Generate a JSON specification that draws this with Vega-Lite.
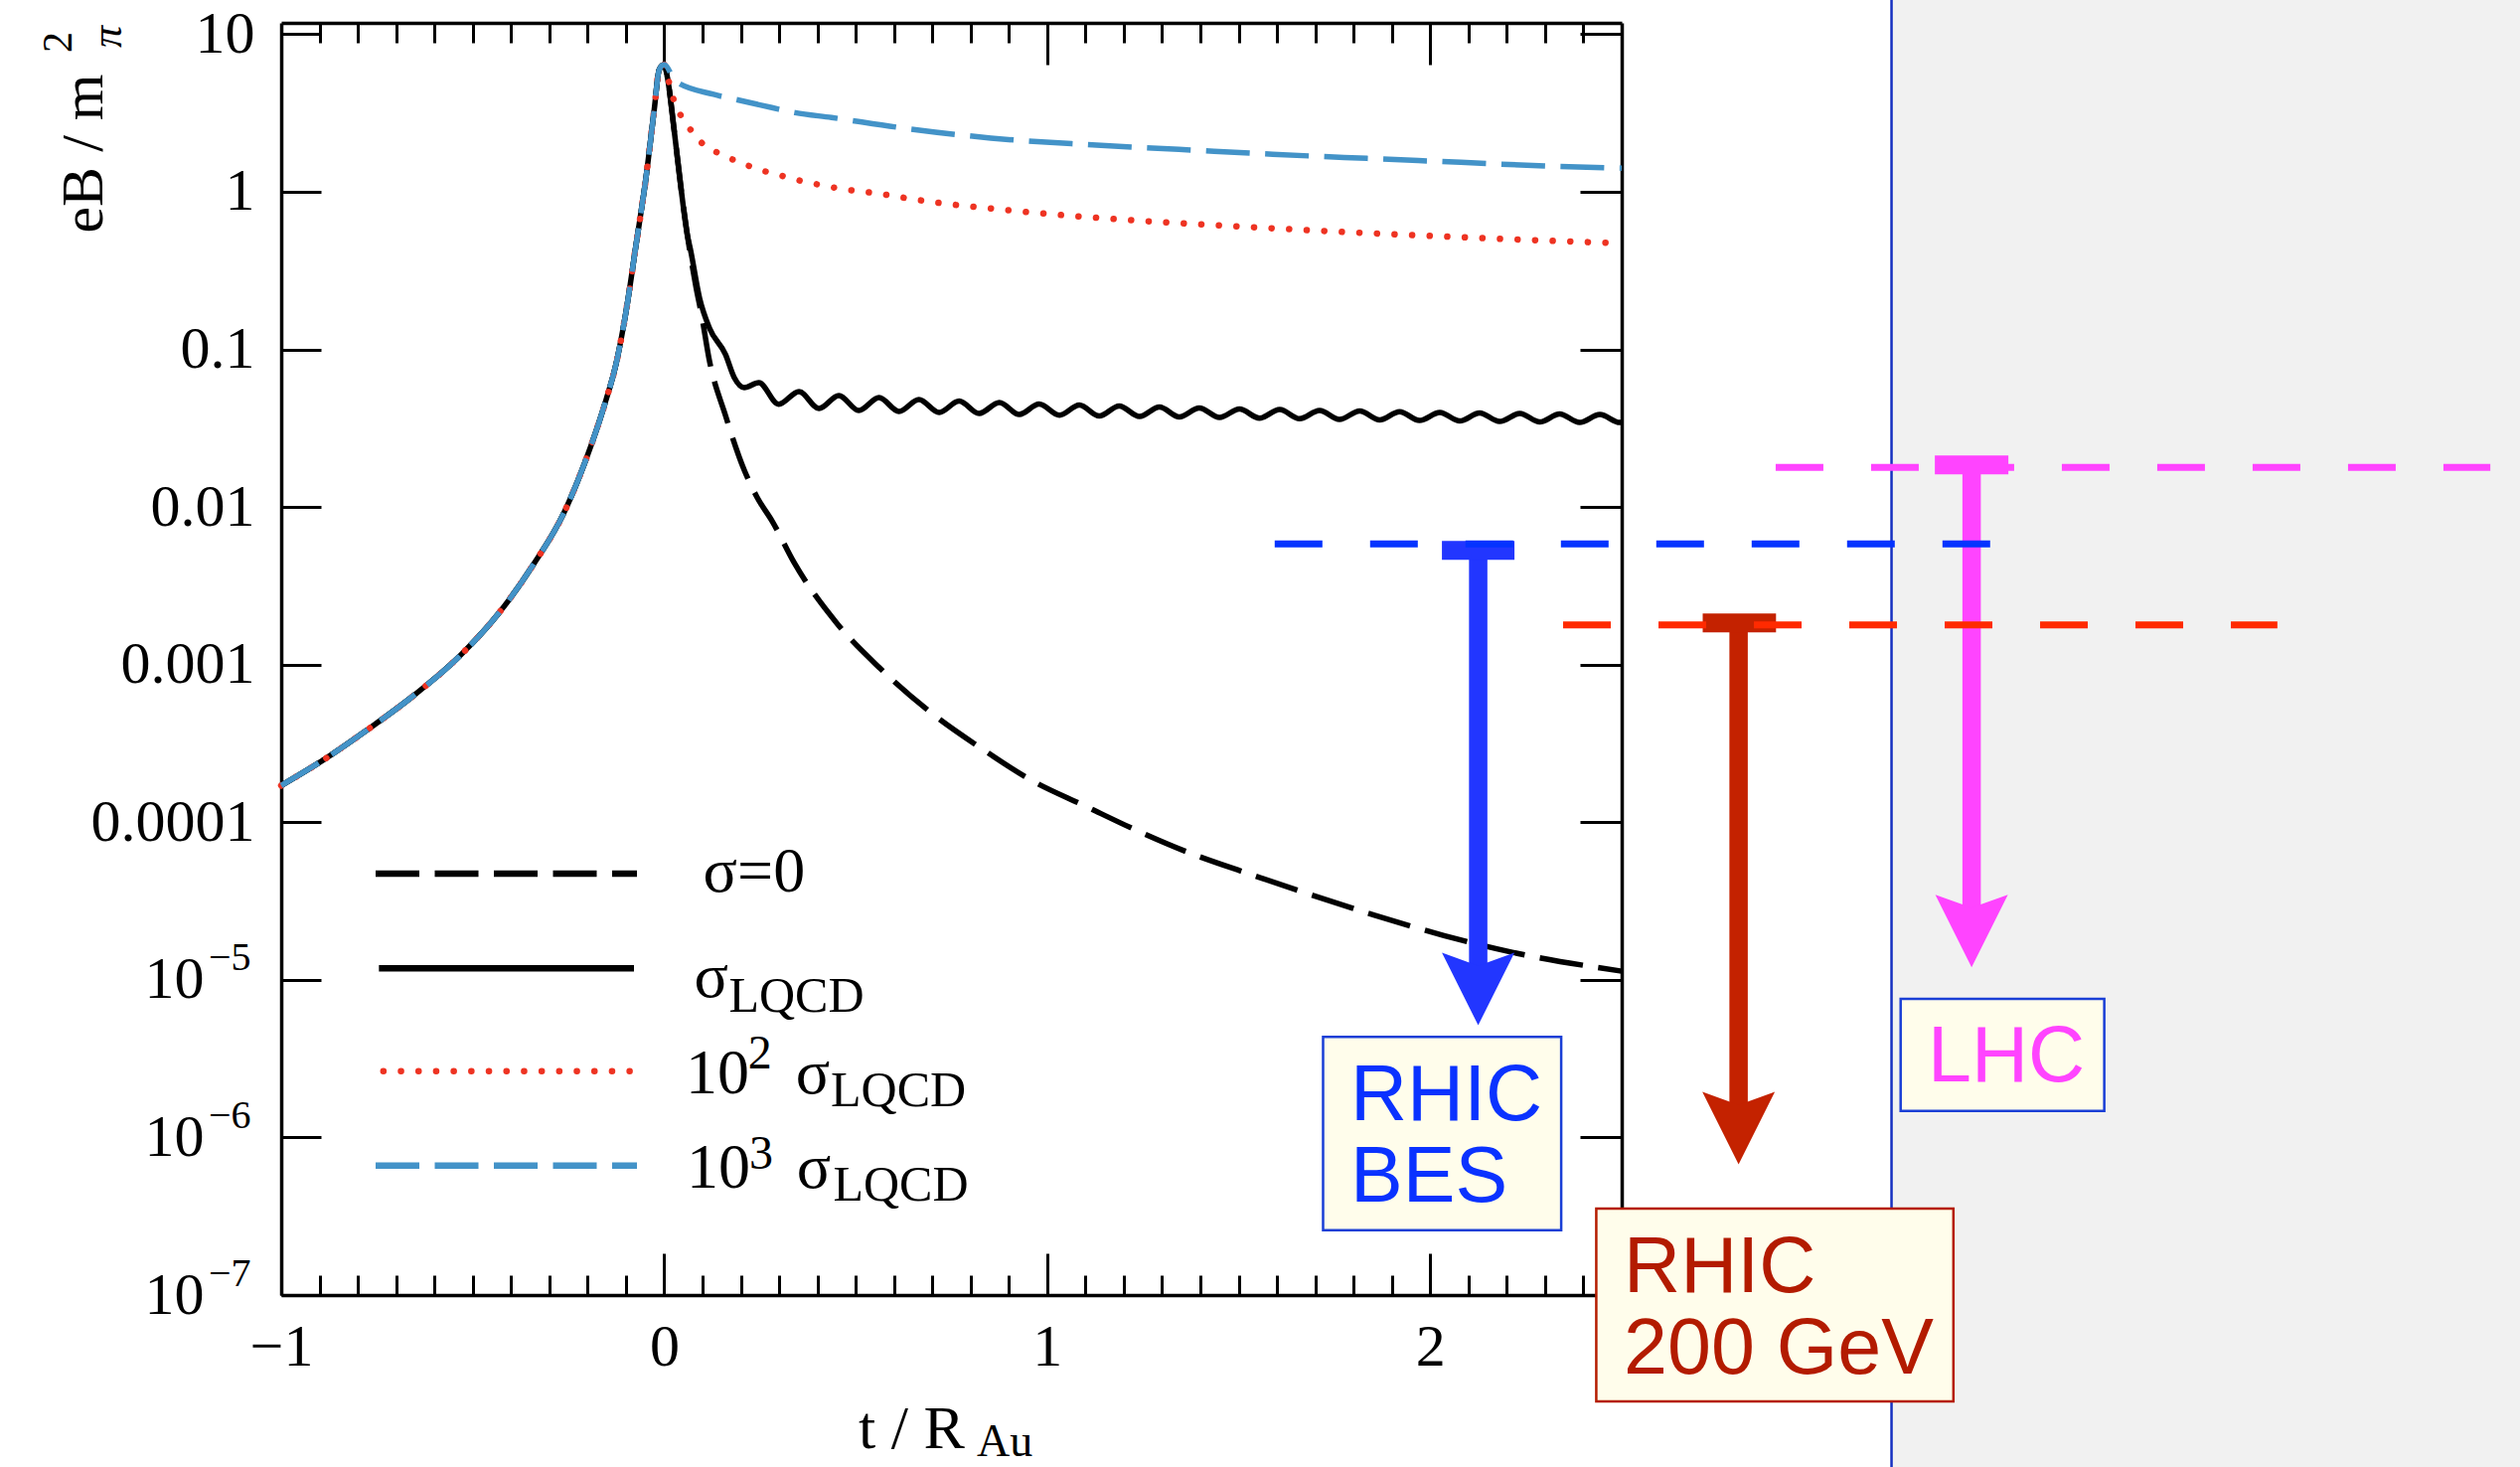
{
  "$schema": "https://vega.github.io/schema/vega-lite/v6.json",
  "width": 1349,
  "height": 1280,
  "autosize": {"type": "none"},
  "padding": {"left": 283, "top": 23, "right": 904, "bottom": 173},
  "background": "#ffffff",
  "config": {
    "view": {"stroke": null},
    "axis": {
      "labelFont": "Liberation Serif", "labelFontSize": 60, "labelColor": "#000000",
      "domainColor": "#000000", "domainWidth": 3.5, "tickColor": "#000000", "tickWidth": 3,
      "grid": false, "labelFlush": false, "labelOverlap": false, "labelBound": false
    },
    "text": {"font": "Liberation Serif"}
  },
  "datasets": {
    "c0": [
      {"t": -1, "v": 1.71e-4, "seg": "curve"}, {"t": -0.888, "v": 2.5e-4, "seg": "curve"},
      {"t": -0.777, "v": 3.83e-4, "seg": "curve"}, {"t": -0.654, "v": 6.37e-4, "seg": "curve"},
      {"t": -0.531, "v": 1.153e-3, "seg": "curve"}, {"t": -0.431, "v": 2.133e-3, "seg": "curve"},
      {"t": -0.342, "v": 4.3e-3, "seg": "curve"}, {"t": -0.263, "v": 9.06e-3, "seg": "curve"},
      {"t": -0.208, "v": 0.01892, "seg": "curve"}, {"t": -0.152, "v": 0.0477, "seg": "curve"},
      {"t": -0.126, "v": 0.0804, "seg": "curve"}, {"t": -0.0996, "v": 0.174, "seg": "curve"},
      {"t": -0.0737, "v": 0.458, "seg": "curve"}, {"t": -0.048, "v": 1.208, "seg": "curve"},
      {"t": -0.026, "v": 3.33, "seg": "curve"}, {"t": -0.013, "v": 5.97, "seg": "curve"},
      {"t": 0, "v": 6.41, "seg": "curve"}, {"t": 0.0086, "v": 5.28, "seg": "curve"},
      {"t": 0.0257, "v": 2.49, "seg": "curve"}, {"t": 0.043, "v": 1.096, "seg": "curve"},
      {"t": 0.0605, "v": 0.53, "seg": "curve"}, {"t": 0.082, "v": 0.2564, "seg": "curve"},
      {"t": 0.099, "v": 0.1581, "seg": "curve"}, {"t": 0.1166, "v": 0.0885, "seg": "curve"},
      {"t": 0.16, "v": 0.0381, "seg": "curve"}, {"t": 0.209, "v": 0.01714, "seg": "curve"},
      {"t": 0.242, "v": 0.01159, "seg": "curve"}, {"t": 0.283, "v": 0.00805, "seg": "curve"},
      {"t": 0.339, "v": 0.00445, "seg": "curve"}, {"t": 0.451, "v": 0.001828, "seg": "curve"},
      {"t": 0.5625, "v": 9.53e-4, "seg": "curve"}, {"t": 0.696, "v": 4.97e-4, "seg": "curve"},
      {"t": 0.83, "v": 2.92e-4, "seg": "curve"}, {"t": 0.964, "v": 1.816e-4, "seg": "curve"},
      {"t": 1.098, "v": 1.271e-4, "seg": "curve"}, {"t": 1.232, "v": 8.91e-5, "seg": "curve"},
      {"t": 1.366, "v": 6.47e-5, "seg": "curve"}, {"t": 1.522, "v": 4.75e-5, "seg": "curve"},
      {"t": 1.679, "v": 3.53e-5, "seg": "curve"}, {"t": 1.857, "v": 2.56e-5, "seg": "curve"},
      {"t": 2.036, "v": 1.91e-5, "seg": "curve"}, {"t": 2.214, "v": 1.496e-5, "seg": "curve"},
      {"t": 2.5, "v": 1.135e-5, "seg": "curve"},
      {"t": -0.7535, "v": 4.716e-5, "seg": "legend"}, {"t": -0.0711, "v": 4.716e-5, "seg": "legend"}
    ],
    "c1": [
      {"t": -1, "v": 1.71e-4, "seg": "curve"}, {"t": -0.888, "v": 2.5e-4, "seg": "curve"},
      {"t": -0.777, "v": 3.83e-4, "seg": "curve"}, {"t": -0.654, "v": 6.37e-4, "seg": "curve"},
      {"t": -0.531, "v": 1.153e-3, "seg": "curve"}, {"t": -0.431, "v": 2.133e-3, "seg": "curve"},
      {"t": -0.342, "v": 4.3e-3, "seg": "curve"}, {"t": -0.263, "v": 9.06e-3, "seg": "curve"},
      {"t": -0.208, "v": 0.01892, "seg": "curve"}, {"t": -0.152, "v": 0.0477, "seg": "curve"},
      {"t": -0.126, "v": 0.0804, "seg": "curve"}, {"t": -0.0996, "v": 0.174, "seg": "curve"},
      {"t": -0.0737, "v": 0.458, "seg": "curve"}, {"t": -0.048, "v": 1.208, "seg": "curve"},
      {"t": -0.026, "v": 3.33, "seg": "curve"}, {"t": -0.013, "v": 5.97, "seg": "curve"},
      {"t": 0, "v": 6.41, "seg": "curve"}, {"t": 0.0086, "v": 5.28, "seg": "curve"},
      {"t": 0.0257, "v": 2.49, "seg": "curve"}, {"t": 0.043, "v": 1.096, "seg": "curve"},
      {"t": 0.0605, "v": 0.53, "seg": "curve"}, {"t": 0.068, "v": 0.4365, "seg": "curve"},
      {"t": 0.0924, "v": 0.2113, "seg": "curve"}, {"t": 0.118, "v": 0.1368, "seg": "curve"},
      {"t": 0.16, "v": 0.0929, "seg": "curve"}, {"t": 0.183, "v": 0.0662, "seg": "curve"},
      {"t": 0.209, "v": 0.05722, "seg": "curve"}, {"t": 0.247, "v": 0.06152, "seg": "curve"},
      {"t": 0.299, "v": 0.04488, "seg": "curve"}, {"t": 0.352, "v": 0.05399, "seg": "curve"},
      {"t": 0.404, "v": 0.04217, "seg": "curve"}, {"t": 0.456, "v": 0.05093, "seg": "curve"},
      {"t": 0.508, "v": 0.04096, "seg": "curve"}, {"t": 0.561, "v": 0.04948, "seg": "curve"},
      {"t": 0.613, "v": 0.04037, "seg": "curve"}, {"t": 0.665, "v": 0.04806, "seg": "curve"},
      {"t": 0.718, "v": 0.03979, "seg": "curve"}, {"t": 0.77, "v": 0.04702, "seg": "curve"},
      {"t": 0.822, "v": 0.03922, "seg": "curve"}, {"t": 0.875, "v": 0.04601, "seg": "curve"},
      {"t": 0.927, "v": 0.03865, "seg": "curve"}, {"t": 0.979, "v": 0.04501, "seg": "curve"},
      {"t": 1.032, "v": 0.03826, "seg": "curve"}, {"t": 1.084, "v": 0.04437, "seg": "curve"},
      {"t": 1.136, "v": 0.03781, "seg": "curve"}, {"t": 1.188, "v": 0.04373, "seg": "curve"},
      {"t": 1.241, "v": 0.03754, "seg": "curve"}, {"t": 1.293, "v": 0.0431, "seg": "curve"},
      {"t": 1.345, "v": 0.03727, "seg": "curve"}, {"t": 1.397, "v": 0.04248, "seg": "curve"},
      {"t": 1.45, "v": 0.037, "seg": "curve"}, {"t": 1.502, "v": 0.04187, "seg": "curve"},
      {"t": 1.554, "v": 0.03662, "seg": "curve"}, {"t": 1.607, "v": 0.04156, "seg": "curve"},
      {"t": 1.659, "v": 0.03631, "seg": "curve"}, {"t": 1.711, "v": 0.04096, "seg": "curve"},
      {"t": 1.763, "v": 0.03594, "seg": "curve"}, {"t": 1.816, "v": 0.04067, "seg": "curve"},
      {"t": 1.868, "v": 0.03568, "seg": "curve"}, {"t": 1.92, "v": 0.04025, "seg": "curve"},
      {"t": 1.972, "v": 0.03542, "seg": "curve"}, {"t": 2.025, "v": 0.03979, "seg": "curve"},
      {"t": 2.077, "v": 0.03516, "seg": "curve"}, {"t": 2.129, "v": 0.0395, "seg": "curve"},
      {"t": 2.181, "v": 0.03491, "seg": "curve"}, {"t": 2.234, "v": 0.03922, "seg": "curve"},
      {"t": 2.286, "v": 0.03466, "seg": "curve"}, {"t": 2.338, "v": 0.03893, "seg": "curve"},
      {"t": 2.39, "v": 0.0344, "seg": "curve"}, {"t": 2.443, "v": 0.03865, "seg": "curve"},
      {"t": 2.495, "v": 0.0344, "seg": "curve"}, {"t": 2.5, "v": 0.03445, "seg": "curve"},
      {"t": -0.7449, "v": 1.182e-5, "seg": "legend"}, {"t": -0.0789, "v": 1.182e-5, "seg": "legend"}
    ],
    "c2": [
      {"t": -1, "v": 1.71e-4, "seg": "curve"}, {"t": -0.888, "v": 2.5e-4, "seg": "curve"},
      {"t": -0.777, "v": 3.83e-4, "seg": "curve"}, {"t": -0.654, "v": 6.37e-4, "seg": "curve"},
      {"t": -0.531, "v": 1.153e-3, "seg": "curve"}, {"t": -0.431, "v": 2.133e-3, "seg": "curve"},
      {"t": -0.342, "v": 4.3e-3, "seg": "curve"}, {"t": -0.263, "v": 9.06e-3, "seg": "curve"},
      {"t": -0.208, "v": 0.01892, "seg": "curve"}, {"t": -0.152, "v": 0.0477, "seg": "curve"},
      {"t": -0.126, "v": 0.0804, "seg": "curve"}, {"t": -0.0996, "v": 0.174, "seg": "curve"},
      {"t": -0.0737, "v": 0.458, "seg": "curve"}, {"t": -0.048, "v": 1.208, "seg": "curve"},
      {"t": -0.026, "v": 3.33, "seg": "curve"}, {"t": -0.013, "v": 5.97, "seg": "curve"},
      {"t": 0, "v": 6.41, "seg": "curve"}, {"t": 0.007, "v": 5.623, "seg": "curve"},
      {"t": 0.017, "v": 4.467, "seg": "curve"}, {"t": 0.028, "v": 3.631, "seg": "curve"},
      {"t": 0.042, "v": 3.09, "seg": "curve"}, {"t": 0.056, "v": 2.754, "seg": "curve"},
      {"t": 0.076, "v": 2.344, "seg": "curve"}, {"t": 0.105, "v": 1.972, "seg": "curve"},
      {"t": 0.147, "v": 1.738, "seg": "curve"}, {"t": 0.188, "v": 1.567, "seg": "curve"},
      {"t": 0.229, "v": 1.436, "seg": "curve"}, {"t": 0.272, "v": 1.33, "seg": "curve"},
      {"t": 0.316, "v": 1.247, "seg": "curve"}, {"t": 0.359, "v": 1.169, "seg": "curve"},
      {"t": 0.402, "v": 1.112, "seg": "curve"}, {"t": 0.447, "v": 1.059, "seg": "curve"},
      {"t": 0.56, "v": 0.9727, "seg": "curve"}, {"t": 0.7, "v": 0.861, "seg": "curve"},
      {"t": 0.85, "v": 0.785, "seg": "curve"}, {"t": 1.0, "v": 0.7244, "seg": "curve"},
      {"t": 1.25, "v": 0.6531, "seg": "curve"}, {"t": 1.5, "v": 0.6026, "seg": "curve"},
      {"t": 1.75, "v": 0.5598, "seg": "curve"}, {"t": 2.0, "v": 0.5248, "seg": "curve"},
      {"t": 2.25, "v": 0.4955, "seg": "curve"}, {"t": 2.5, "v": 0.471, "seg": "curve"},
      {"t": -0.7333, "v": 2.634e-6, "seg": "legend"}, {"t": -0.0903, "v": 2.634e-6, "seg": "legend"}
    ],
    "c3": [
      {"t": -1, "v": 1.71e-4, "seg": "curve"}, {"t": -0.888, "v": 2.5e-4, "seg": "curve"},
      {"t": -0.777, "v": 3.83e-4, "seg": "curve"}, {"t": -0.654, "v": 6.37e-4, "seg": "curve"},
      {"t": -0.531, "v": 1.153e-3, "seg": "curve"}, {"t": -0.431, "v": 2.133e-3, "seg": "curve"},
      {"t": -0.342, "v": 4.3e-3, "seg": "curve"}, {"t": -0.263, "v": 9.06e-3, "seg": "curve"},
      {"t": -0.208, "v": 0.01892, "seg": "curve"}, {"t": -0.152, "v": 0.0477, "seg": "curve"},
      {"t": -0.126, "v": 0.0804, "seg": "curve"}, {"t": -0.0996, "v": 0.174, "seg": "curve"},
      {"t": -0.0737, "v": 0.458, "seg": "curve"}, {"t": -0.048, "v": 1.208, "seg": "curve"},
      {"t": -0.026, "v": 3.33, "seg": "curve"}, {"t": -0.013, "v": 5.97, "seg": "curve"},
      {"t": 0, "v": 6.41, "seg": "curve"}, {"t": 0.03, "v": 5.031, "seg": "curve"},
      {"t": 0.129, "v": 4.15, "seg": "curve"}, {"t": 0.186, "v": 3.855, "seg": "curve"},
      {"t": 0.281, "v": 3.42, "seg": "curve"}, {"t": 0.342, "v": 3.177, "seg": "curve"},
      {"t": 0.437, "v": 2.958, "seg": "curve"}, {"t": 0.607, "v": 2.57, "seg": "curve"},
      {"t": 0.853, "v": 2.193, "seg": "curve"}, {"t": 1.098, "v": 1.995, "seg": "curve"},
      {"t": 1.344, "v": 1.858, "seg": "curve"}, {"t": 1.589, "v": 1.73, "seg": "curve"},
      {"t": 1.835, "v": 1.629, "seg": "curve"}, {"t": 2.08, "v": 1.538, "seg": "curve"},
      {"t": 2.326, "v": 1.449, "seg": "curve"}, {"t": 2.5, "v": 1.413, "seg": "curve"},
      {"t": -0.7535, "v": 6.63e-7, "seg": "legend"}, {"t": -0.0711, "v": 6.63e-7, "seg": "legend"}
    ],
    "levels": [
      {"exp": "BES", "t": 1.594, "t2": 3.463, "v": 0.00583},
      {"exp": "200", "t": 2.347, "t2": 4.212, "v": 0.001787},
      {"exp": "LHC", "t": 2.902, "t2": 4.768, "v": 0.01783}
    ],
    "shafts": [
      {"exp": "BES", "t": 2.1253, "v": 0.005303, "v2": 1.012e-5},
      {"exp": "200", "t": 2.8052, "v": 0.001839, "v2": 1.325e-6},
      {"exp": "LHC", "t": 3.4136, "v": 0.01849, "v2": 2.418e-5}
    ],
    "bars": [
      {"exp": "BES", "t": 2.0306, "t2": 2.22, "v": 0.005303},
      {"exp": "200", "t": 2.7115, "t2": 2.9029, "v": 0.001839},
      {"exp": "LHC", "t": 3.3176, "t2": 3.5096, "v": 0.01849}
    ],
    "heads": [
      {"exp": "BES", "t": 2.1253, "v": 8.75e-6},
      {"exp": "200", "t": 2.8052, "v": 1.1464e-6},
      {"exp": "LHC", "t": 3.4136, "v": 2.041e-5}
    ],
    "boxes": [
      {"exp": "BES", "t": 1.7203, "t2": 2.342, "v": 4.34e-6, "v2": 2.58e-7},
      {"exp": "200", "t": 2.4336, "t2": 3.3661, "v": 3.535e-7, "v2": 2.113e-8},
      {"exp": "LHC", "t": 3.2283, "t2": 3.76, "v": 7.568e-6, "v2": 1.473e-6}
    ],
    "boxtext": [
      {"exp": "BES", "t": 1.7918, "v": 1.2817e-6, "text": "RHIC"},
      {"exp": "BES", "t": 1.7918, "v": 3.897e-7, "text": "BES"},
      {"exp": "200", "t": 2.5054, "v": 1.044e-7, "text": "RHIC"},
      {"exp": "200", "t": 2.5054, "v": 3.187e-8, "text": "200 GeV"},
      {"exp": "LHC", "t": 3.2994, "v": 2.258e-6, "text": "LHC"}
    ]
  },
  "encoding": {
    "x": {"field": "t", "type": "quantitative", "scale": {"domain": [-1, 2.5], "nice": false, "zero": false}, "axis": null},
    "y": {"field": "v", "type": "quantitative", "scale": {"type": "log", "domain": [1e-7, 11.8], "nice": false}, "axis": null}
  },
  "resolve": {
    "axis": {"x": "independent", "y": "independent"},
    "scale": {"color": "independent", "stroke": "independent"}
  },
  "layer": [
    {
      "data": {"values": [{"t": 3.2045, "t2": 5.5, "v": 1e-10, "v2": 1000}]},
      "mark": {"type": "rect", "fill": "#f1f1f1", "clip": false},
      "encoding": {"x2": {"field": "t2"}, "y2": {"field": "v2"}}
    },
    {
      "data": {"values": [{"t": 3.2045, "v": 1e-10, "v2": 1000}]},
      "mark": {"type": "rule", "color": "#1530c0", "strokeWidth": 2.5, "clip": false},
      "encoding": {"y2": {"field": "v2"}}
    },
    {
      "data": {"name": "c0"},
      "mark": {"type": "line", "color": "#000000", "strokeDash": [44, 15.5], "interpolate": "monotone"},
      "encoding": {
        "x": {"field": "t", "type": "quantitative", "scale": {"domain": [-1, 2.5], "nice": false, "zero": false},
              "axis": {"orient": "bottom", "values": [-1, 0, 1, 2], "tickSize": -42, "labels": false, "domain": true, "title": null}},
        "y": {"field": "v", "type": "quantitative", "scale": {"type": "log", "domain": [1e-7, 11.8], "nice": false},
              "axis": {"orient": "left", "values": [1e-7, 1e-6, 1e-5, 0.0001, 0.001, 0.01, 0.1, 1, 10], "tickSize": -40, "labels": false, "domain": true, "title": null}},
        "detail": {"field": "seg"},
        "strokeWidth": {"field": "seg", "type": "ordinal", "scale": {"domain": ["curve", "legend"], "range": [5.5, 6.5]}, "legend": null}
      }
    },
    {
      "data": {"name": "c1"},
      "mark": {"type": "line", "color": "#000000", "interpolate": "monotone"},
      "encoding": {
        "x": {"field": "t", "type": "quantitative", "scale": {"domain": [-1, 2.5], "nice": false, "zero": false},
              "axis": {"orient": "bottom", "values": [-0.9, -0.8, -0.7, -0.6, -0.5, -0.4, -0.3, -0.2, -0.1, 0.1, 0.2, 0.3, 0.4, 0.5, 0.6, 0.7, 0.8, 0.9, 1.1, 1.2, 1.3, 1.4, 1.5, 1.6, 1.7, 1.8, 1.9, 2.1, 2.2, 2.3, 2.4], "tickSize": -20, "labels": false, "domain": false, "title": null}},
        "y": {"field": "v", "type": "quantitative", "scale": {"type": "log", "domain": [1e-7, 11.8], "nice": false},
              "axis": {"orient": "right", "values": [1e-7, 1e-6, 1e-5, 0.0001, 0.001, 0.01, 0.1, 1, 10], "tickSize": -42, "labels": false, "domain": true, "title": null}},
        "detail": {"field": "seg"},
        "strokeWidth": {"field": "seg", "type": "ordinal", "scale": {"domain": ["curve", "legend"], "range": [5.5, 6.5]}, "legend": null}
      }
    },
    {
      "data": {"name": "c2"},
      "mark": {"type": "line", "color": "#ee3322", "strokeWidth": 6.5, "strokeDash": [0.1, 17.6], "strokeCap": "round", "interpolate": "monotone"},
      "encoding": {
        "x": {"field": "t", "type": "quantitative", "scale": {"domain": [-1, 2.5], "nice": false, "zero": false},
              "axis": {"orient": "top", "values": [0, 1, 2], "tickSize": -42, "labels": false, "domain": true, "title": null}},
        "y": {"field": "v", "type": "quantitative", "scale": {"type": "log", "domain": [1e-7, 11.8], "nice": false},
              "axis": {"orient": "left", "values": [0.0001, 0.001, 0.01, 0.1, 1, 10], "ticks": false, "tickSize": 0, "domain": false, "labelPadding": 27, "format": "~g", "title": null}},
        "detail": {"field": "seg"}
      }
    },
    {
      "data": {"name": "c3"},
      "mark": {"type": "line", "color": "#4393c8", "strokeDash": [44, 15.5], "interpolate": "monotone"},
      "encoding": {
        "x": {"field": "t", "type": "quantitative", "scale": {"domain": [-1, 2.5], "nice": false, "zero": false},
              "axis": {"orient": "top", "values": [-0.9, -0.8, -0.7, -0.6, -0.5, -0.4, -0.3, -0.2, -0.1, 0.1, 0.2, 0.3, 0.4, 0.5, 0.6, 0.7, 0.8, 0.9, 1.1, 1.2, 1.3, 1.4, 1.5, 1.6, 1.7, 1.8, 1.9, 2.1, 2.2, 2.3, 2.4], "tickSize": -20, "labels": false, "domain": false, "title": null}},
        "y": {"field": "v", "type": "quantitative", "scale": {"type": "log", "domain": [1e-7, 11.8], "nice": false},
              "axis": {"orient": "left", "values": [1e-5, 1e-6, 1e-7], "ticks": false, "tickSize": 0, "domain": false, "labelPadding": 78, "labelExpr": "'10'", "title": null}},
        "detail": {"field": "seg"},
        "strokeWidth": {"field": "seg", "type": "ordinal", "scale": {"domain": ["curve", "legend"], "range": [5.5, 6.5]}, "legend": null}
      }
    },
    {
      "data": {"name": "shafts"},
      "mark": {"type": "rule", "strokeWidth": 18.5, "strokeCap": "butt", "clip": false},
      "encoding": {
        "y2": {"field": "v2"},
        "color": {"field": "exp", "type": "nominal", "scale": {"domain": ["BES", "200", "LHC"], "range": ["#2236ff", "#c42200", "#ff44ff"]}, "legend": null}
      }
    },
    {
      "data": {"name": "bars"},
      "mark": {"type": "rule", "strokeWidth": 19, "strokeCap": "butt", "clip": false},
      "encoding": {
        "x2": {"field": "t2"},
        "color": {"field": "exp", "type": "nominal", "scale": {"domain": ["BES", "200", "LHC"], "range": ["#2236ff", "#c42200", "#ff44ff"]}, "legend": null}
      }
    },
    {
      "data": {"name": "levels"},
      "mark": {"type": "rule", "strokeWidth": 7, "strokeDash": [48, 48], "strokeCap": "butt", "clip": false},
      "encoding": {
        "x": {"field": "t", "type": "quantitative", "scale": {"domain": [-1, 2.5], "nice": false, "zero": false},
              "axis": {"orient": "bottom", "values": [-1, 0, 1, 2], "ticks": false, "tickSize": 0, "domain": false, "labelPadding": 23, "format": "d", "title": null}},
        "y": {"field": "v", "type": "quantitative", "scale": {"type": "log", "domain": [1e-7, 11.8], "nice": false},
              "axis": {"orient": "left", "values": [1e-5, 1e-6, 1e-7], "ticks": false, "tickSize": 0, "domain": false, "labelPadding": 31, "labelOffset": -22, "labelFontSize": 40, "labelExpr": "'\u2212' + round(-log(datum.value) / LN10)", "title": null}},
        "x2": {"field": "t2"},
        "color": {"field": "exp", "type": "nominal", "scale": {"domain": ["BES", "200", "LHC"], "range": ["#0433ff", "#ff2a00", "#ff44ff"]}, "legend": null}
      }
    },
    {
      "data": {"name": "heads"},
      "mark": {"type": "point", "shape": "M-1,-1L0,1L1,-1L0,-0.64Z", "size": 5329, "filled": true, "opacity": 1, "strokeWidth": 0, "clip": false},
      "encoding": {
        "color": {"field": "exp", "type": "nominal", "scale": {"domain": ["BES", "200", "LHC"], "range": ["#2236ff", "#c42200", "#ff44ff"]}, "legend": null}
      }
    },
    {
      "data": {"name": "boxes"},
      "mark": {"type": "rect", "fill": "#fffdeb", "strokeWidth": 2.5, "clip": false},
      "encoding": {
        "x2": {"field": "t2"},
        "y2": {"field": "v2"},
        "stroke": {"field": "exp", "type": "nominal", "scale": {"domain": ["BES", "200", "LHC"], "range": ["#1a3fd6", "#b51d00", "#1a3fd6"]}, "legend": null}
      }
    },
    {
      "data": {"name": "boxtext"},
      "mark": {"type": "text", "font": "Liberation Sans", "fontSize": 79, "align": "left", "baseline": "alphabetic", "clip": false},
      "encoding": {
        "text": {"field": "text", "type": "nominal"},
        "color": {"field": "exp", "type": "nominal", "scale": {"domain": ["BES", "200", "LHC"], "range": ["#0a32ff", "#b31b00", "#ff44ff"]}, "legend": null}
      }
    },
    {
      "data": {"values": [
        {"t": 0.1015, "v": 3.648e-5, "text": "σ=0"},
        {"t": 0.0781, "v": 7.755e-6, "text": "σ"},
        {"t": 0.056, "v": 1.905e-6, "text": "10"},
        {"t": 0.3435, "v": 1.905e-6, "text": "σ"},
        {"t": 0.0586, "v": 4.795e-7, "text": "10"},
        {"t": 0.3461, "v": 4.795e-7, "text": "σ"}
      ]},
      "mark": {"type": "text", "fontSize": 64, "align": "left", "baseline": "alphabetic", "color": "#000000"},
      "encoding": {"text": {"field": "text", "type": "nominal"}}
    },
    {
      "data": {"values": [
        {"t": 0.1687, "v": 6.266e-6, "text": "LQCD"},
        {"t": 0.4349, "v": 1.571e-6, "text": "LQCD"},
        {"t": 0.4411, "v": 3.954e-7, "text": "LQCD"}
      ]},
      "mark": {"type": "text", "fontSize": 50, "align": "left", "baseline": "alphabetic", "color": "#000000"},
      "encoding": {"text": {"field": "text", "type": "nominal"}}
    },
    {
      "data": {"values": [
        {"t": 0.2185, "v": 2.739e-6, "text": "2"},
        {"t": 0.2221, "v": 6.32e-7, "text": "3"}
      ]},
      "mark": {"type": "text", "fontSize": 48, "align": "left", "baseline": "alphabetic", "color": "#000000"},
      "encoding": {"text": {"field": "text", "type": "nominal"}}
    },
    {
      "data": {"values": [{"t": 0.5075, "v": 1.068e-8, "text": "t / R"}]},
      "mark": {"type": "text", "fontSize": 62, "align": "left", "baseline": "alphabetic", "color": "#000000", "clip": false},
      "encoding": {"text": {"field": "text", "type": "nominal"}}
    },
    {
      "data": {"values": [{"t": 0.8163, "v": 9.508e-9, "text": "Au"}]},
      "mark": {"type": "text", "fontSize": 46, "align": "left", "baseline": "alphabetic", "color": "#000000", "clip": false},
      "encoding": {"text": {"field": "text", "type": "nominal"}}
    },
    {
      "data": {"values": [{"t": -1.4671, "v": 0.547, "text": "eB / m"}]},
      "mark": {"type": "text", "fontSize": 60, "angle": 270, "align": "left", "baseline": "alphabetic", "color": "#000000", "clip": false},
      "encoding": {"text": {"field": "text", "type": "nominal"}}
    },
    {
      "data": {"values": [{"t": -1.5475, "v": 7.632, "text": "2"}]},
      "mark": {"type": "text", "fontSize": 42, "angle": 270, "align": "left", "baseline": "alphabetic", "color": "#000000", "clip": false},
      "encoding": {"text": {"field": "text", "type": "nominal"}}
    },
    {
      "data": {"values": [{"t": -1.4178, "v": 8.21, "text": "π"}]},
      "mark": {"type": "text", "fontSize": 44, "fontStyle": "italic", "angle": 270, "align": "left", "baseline": "alphabetic", "color": "#000000", "clip": false},
      "encoding": {"text": {"field": "text", "type": "nominal"}}
    }
  ]
}
